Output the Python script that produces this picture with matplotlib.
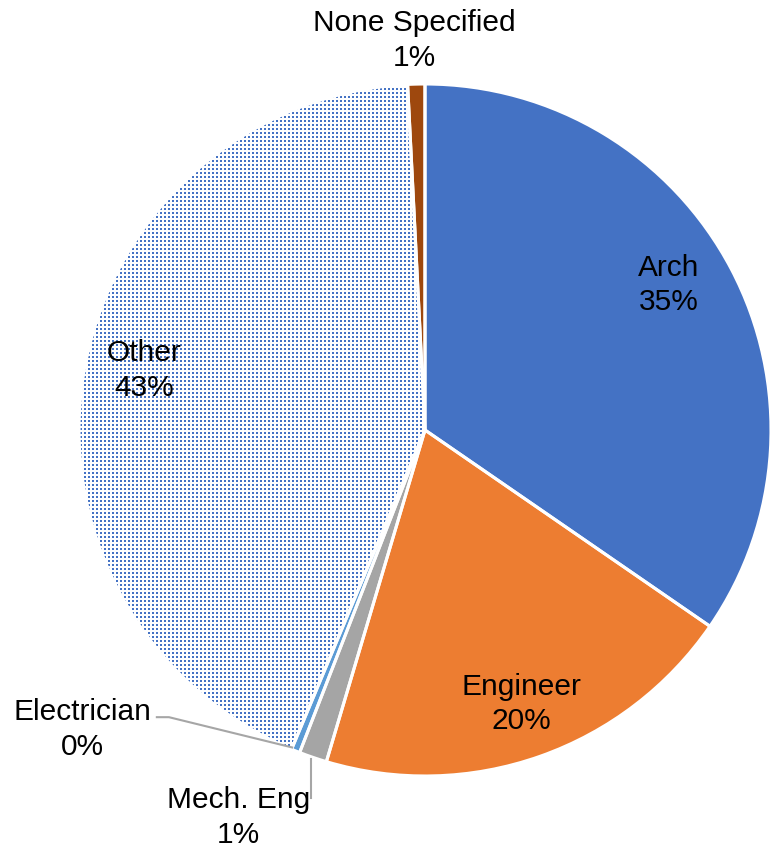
import numpy as np
import matplotlib.pyplot as plt
from matplotlib.colors import to_rgba

# share of respondents by profession (percent)
professions = ["Arch", "Engineer", "Mech. Eng", "Electrician", "Other", "None Specified"]
shares = [34.6, 20.0, 1.3, 0.4, 42.9, 0.8]
colors = ["#4472C4", "#ED7D31", "#A5A5A5", "#5B9BD5", "white", "#9E480E"]

plt.rcParams['font.family'] = ['Liberation Sans', 'DejaVu Sans']

W, H, DPI = 777, 851, 100
fig = plt.figure(figsize=(W / DPI, H / DPI), dpi=DPI)
ax = fig.add_axes([0, 0, 1, 1])

# pie centre and radius in pixels
cx, cy, R = 425, 430, 346
xlim = (-cx / R, (W - cx) / R)
ylim = (-(H - cy) / R, cy / R)

wedges, _ = ax.pie(shares, colors=colors, startangle=90, counterclock=False,
                   radius=1, wedgeprops=dict(linewidth=0))

# dotted fill for "Other": small blue squares on a 4 px grid, clipped to the wedge
dots = np.zeros((H, W, 4))
yy, xx = np.mgrid[0:H, 0:W]
on = (yy % 4 < 2) & (xx % 4 < 2)
dots[on] = to_rgba('#4472C4')
img = ax.imshow(dots, extent=(*xlim, *ylim), origin='upper',
                interpolation='nearest', zorder=2)
img.set_clip_path(wedges[4])

# white separators drawn on top
ax.pie(shares, startangle=90, counterclock=False, radius=1,
       wedgeprops=dict(fill=False, edgecolor='white', linewidth=2.2, zorder=3))

ax.set_xlim(*xlim)
ax.set_ylim(*ylim)
ax.set_aspect('equal')
ax.axis('off')

total = sum(shares)
fs = 21.5
ls = 1.3

def mid_angle(w):
    return np.deg2rad((w.theta1 + w.theta2) / 2)

# labels inside the big slices
inside = {"Arch": (0.82, 3), "Engineer": (0.84, 0), "Other": (0.83, -2)}
for name, w, v in zip(professions, wedges, shares):
    if name in inside:
        r, da = inside[name]
        a = mid_angle(w) + np.deg2rad(da)
        ax.text(r * np.cos(a), r * np.sin(a), f"{name}\n{round(v / total * 100):.0f}%",
                ha='center', va='center', fontsize=fs, linespacing=ls, zorder=5)

# outside labels with leader lines
outside = {
    "None Specified": (-0.03, 1.125),
    "Electrician": (-0.99, -0.865),
    "Mech. Eng": (-0.54, -1.12),
}
for name, w, v in zip(professions, wedges, shares):
    if name not in outside:
        continue
    tx, ty = outside[name]
    ax.text(tx, ty, f"{name}\n{round(v / total * 100):.0f}%",
            ha='center', va='center', fontsize=fs, linespacing=ls, zorder=5)
    a = mid_angle(w)
    ex, ey = np.cos(a), np.sin(a)
    if name == "Electrician":
        ax.plot([-0.775, -0.74, ex - 0.01], [-0.83, -0.83, ey + 0.01],
                color='#A6A6A6', lw=1.5, zorder=4)
    elif name == "Mech. Eng":
        ax.plot([-0.33, -0.33], [ey - 0.005, -1.065], color='#A6A6A6', lw=1.5, zorder=4)

fig.savefig("out.png", dpi=DPI)
